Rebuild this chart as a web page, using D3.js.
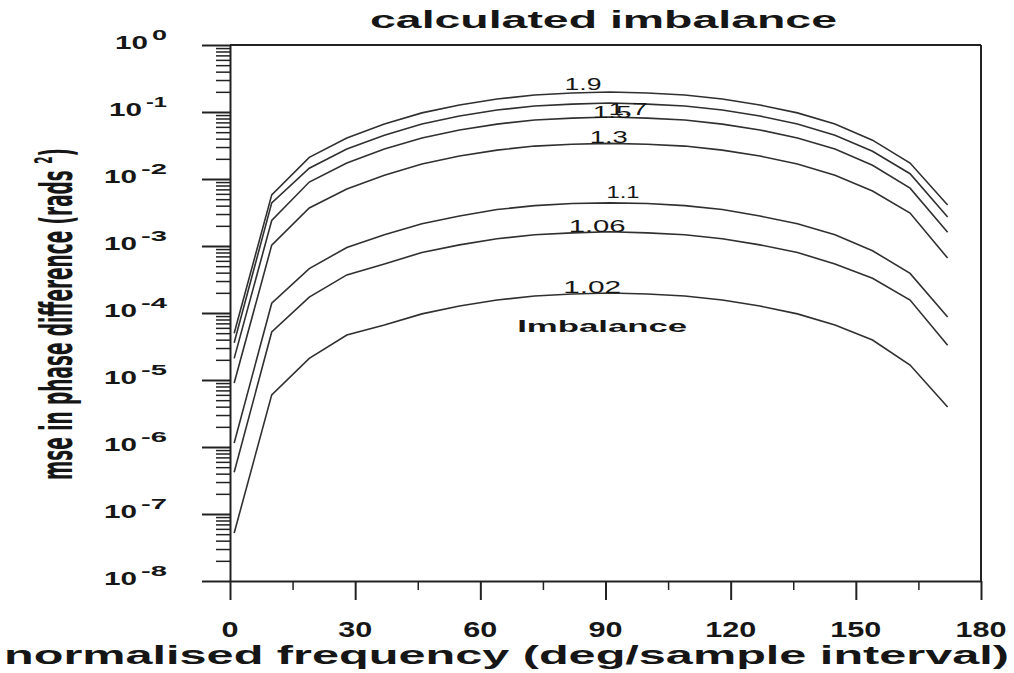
<!DOCTYPE html>
<html>
<head>
<meta charset="utf-8">
<script src="https://cdn.jsdelivr.net/npm/d3@7"></script>
<style>
  body { margin: 0; background: #fff; }
  text { font-family: "Liberation Sans", Arial, sans-serif; fill: #161616; }
</style>
</head>
<body>
<div id="chart"></div>
<script>
// data (frequency in deg/sample, mse in rads^2)
const freqs = [1, 10, 19, 28, 37, 46, 55, 64, 73, 82, 91, 100, 109, 118, 127, 136, 145, 154, 163, 172];
const imbalances = ["1.9", "1.7", "1.5", "1.3", "1.1", "1.06", "1.02"];

const mse_1_9  = [5.0e-5, 5.8e-3, 2.1e-2, 4.1e-2, 6.6e-2, 9.7e-2, 0.127, 0.156, 0.179, 0.192, 0.199, 0.192, 0.179, 0.156, 0.127, 0.097, 0.066, 0.038, 0.0173, 0.0041];
const mse_1_7  = [3.6e-5, 4.4e-3, 1.45e-2, 2.8e-2, 4.5e-2, 6.6e-2, 8.7e-2, 0.107, 0.123, 0.131, 0.136, 0.131, 0.123, 0.107, 0.087, 0.066, 0.045, 0.026, 0.0120, 0.0027];
const mse_1_5  = [2.1e-5, 2.4e-3, 9.0e-3, 1.73e-2, 2.8e-2, 4.1e-2, 5.4e-2, 6.6e-2, 7.6e-2, 8.1e-2, 8.4e-2, 8.1e-2, 7.6e-2, 6.6e-2, 5.4e-2, 4.1e-2, 2.8e-2, 1.6e-2, 7.3e-3, 1.6e-3];
const mse_1_3  = [9.0e-6, 1.03e-3, 3.7e-3, 7.1e-3, 1.14e-2, 1.68e-2, 2.2e-2, 2.7e-2, 3.1e-2, 3.3e-2, 3.4e-2, 3.3e-2, 3.1e-2, 2.7e-2, 2.2e-2, 1.68e-2, 1.14e-2, 6.6e-3, 3.1e-3, 6.6e-4];
const mse_1_1  = [1.15e-6, 1.4e-4, 4.6e-4, 9.5e-4, 1.47e-3, 2.15e-3, 2.8e-3, 3.5e-3, 4.0e-3, 4.3e-3, 4.4e-3, 4.3e-3, 4.0e-3, 3.5e-3, 2.8e-3, 2.15e-3, 1.47e-3, 8.5e-4, 3.9e-4, 8.7e-5];
const mse_1_06 = [4.2e-7, 5.2e-5, 1.73e-4, 3.7e-4, 5.4e-4, 8.0e-4, 1.04e-3, 1.28e-3, 1.47e-3, 1.57e-3, 1.63e-3, 1.57e-3, 1.47e-3, 1.28e-3, 1.04e-3, 8.0e-4, 5.4e-4, 3.3e-4, 1.56e-4, 3.3e-5];
const mse_1_02 = [5.2e-8, 6.0e-6, 2.1e-5, 4.7e-5, 6.6e-5, 9.7e-5, 1.27e-4, 1.56e-4, 1.79e-4, 1.92e-4, 1.99e-4, 1.92e-4, 1.79e-4, 1.56e-4, 1.27e-4, 9.7e-5, 6.6e-5, 3.95e-5, 1.67e-5, 3.95e-6];

const yTicks = [1e0, 1e-1, 1e-2, 1e-3, 1e-4, 1e-5, 1e-6, 1e-7, 1e-8];
const yExp = ["0", "-1", "-2", "-3", "-4", "-5", "-6", "-7", "-8"];
const xTicks = [0, 30, 60, 90, 120, 150, 180];
const xMinor = [15, 45, 75, 105, 135, 165];

// where each curve label sits (deg along curve, pixel nudge, text width)
const labelDeg = [84.6, 95.4, 91.6, 90.8, 94.2, 88, 86.8];
const labelDy  = [-3, 11, 1, 0, -5, 0, 0];
const labelW   = [37, 39, 39, 38, 33, 57, 58];

const WD = 1014, HT = 673
const margin = { left: 230, right: 33, top: 45, bottom: 92 }
const width = WD - margin.left - margin.right
const height = HT - margin.top - margin.bottom
const ink = "#222"

const series = [mse_1_9, mse_1_7, mse_1_5, mse_1_3, mse_1_1, mse_1_06, mse_1_02]
  .map((vals, i) => ({ name: imbalances[i], values: vals.map((v, j) => ({ f: freqs[j], v: v })) }));

var svg = d3.select("#chart")
  .append("svg")
    .attr("width", WD)
    .attr("height", HT);

var g = svg.append("g")
  .attr("transform", "translate(" + margin.left + "," + margin.top + ")");

const xs = d3.scaleLinear().domain([0, 180]).range([0, width]);
const ys = d3.scaleLog().domain([1e-8, 1]).range([height, 0]);

// text squeezed/stretched to a given width
function fitText(sel, x, y, str, size, len, anchor, weight) {
  return sel.append("text")
    .attr("x", x).attr("y", y)
    .attr("font-size", size)
    .attr("font-weight", weight || "normal")
    .attr("text-anchor", anchor || "middle")
    .attr("textLength", len)
    .attr("lengthAdjust", "spacingAndGlyphs")
    .text(str);
}

// y axis: major + minor log ticks
const yMinor = ys.ticks().filter(t => yTicks.indexOf(t) < 0);
g.append("g")
  .attr("class", "minor")
  .call(d3.axisLeft(ys).tickValues(yMinor).tickSize(14).tickSizeOuter(0).tickFormat(""))
  .call(a => a.select(".domain").remove());
g.append("g")
  .call(d3.axisLeft(ys).tickValues(yTicks).tickSize(28).tickSizeOuter(0).tickFormat(""));

// x axis
g.append("g")
  .attr("class", "minor")
  .attr("transform", "translate(0," + height + ")")
  .call(d3.axisBottom(xs).tickValues(xMinor).tickSize(9).tickSizeOuter(0).tickFormat(""))
  .call(a => a.select(".domain").remove());
var xAxis = g.append("g")
  .attr("transform", "translate(0," + height + ")")
  .call(d3.axisBottom(xs).tickValues(xTicks).tickSize(19).tickSizeOuter(0));
xAxis.selectAll("text").remove();

g.selectAll(".tick line, .domain").attr("stroke", ink).attr("stroke-width", 2);
g.selectAll(".minor .tick line").attr("stroke-width", 1.5);

// frame top + right
g.append("line").attr("x1", 0).attr("x2", width).attr("y1", 0).attr("y2", 0)
  .attr("stroke", ink).attr("stroke-width", 2);
g.append("line").attr("x1", width).attr("x2", width).attr("y1", 0).attr("y2", height)
  .attr("stroke", ink).attr("stroke-width", 2);

// x tick labels
xTicks.forEach(t => {
  const s = String(t);
  fitText(g, xs(t), height + 56, s, 22, s.length * 17, "middle", "bold");
});

// y tick labels 10^n
const expW = { "-": 11, "1": 10 };
yTicks.forEach((t, i) => {
  const e = yExp[i];
  const ew = e.split("").reduce((s, c) => s + (expW[c] || 15), 0);
  const right = -63;
  fitText(g, right, ys(t) - 5, e, 15, ew, "end", "bold");
  fitText(g, right - ew - 4, ys(t) + 4, "10", 18, 33, "end", "bold");
});

// curves
const line = d3.line().x(d => xs(d.f)).y(d => ys(d.v));
g.selectAll(".curve")
  .data(series)
  .enter()
  .append("path")
    .attr("class", "curve")
    .attr("d", d => line(d.values))
    .attr("fill", "none")
    .attr("stroke", "#303030")
    .attr("stroke-width", 1.6);

// y position of a curve at a given frequency (linear in pixel space)
function curveY(vals, f) {
  const i = Math.max(0, Math.min(freqs.length - 2, d3.bisectRight(freqs, f) - 1));
  const t = (f - freqs[i]) / (freqs[i + 1] - freqs[i]);
  return ys(vals[i].v) + t * (ys(vals[i + 1].v) - ys(vals[i].v));
}

series.forEach((s, i) => {
  const y = curveY(s.values, labelDeg[i]) + labelDy[i];
  fitText(g, xs(labelDeg[i]), y, s.name, 16, labelW[i], "middle", "normal");
});
fitText(g, xs(89.2), curveY(series[6].values, 86.8) + 39, "Imbalance", 17, 170, "middle", "bold");

// titles
fitText(svg, 370, 28, "calculated  imbalance", 23, 467, "start", "bold");
fitText(svg, 4, 664, "normalised  frequency  (deg/sample  interval)", 25, 1005, "start", "bold");

// y title: condensed, squeezed with a scale so its box matches what is drawn
var yl = svg.append("text")
  .attr("text-anchor", "middle")
  .attr("font-size", 44)
  .attr("font-weight", "bold")
  .style("font-family", "'Liberation Sans Narrow', 'DejaVu Sans Condensed', sans-serif");
yl.append("tspan").text("mse in phase difference (rads ");
yl.append("tspan").attr("font-size", 25).attr("dy", -20).text("2");
yl.append("tspan").attr("dy", 20).text(")");
const natural = yl.node().getComputedTextLength();
yl.attr("transform", "translate(72,314) rotate(-90) scale(" + (332 / natural) + ",1)");
</script>
</body>
</html>
